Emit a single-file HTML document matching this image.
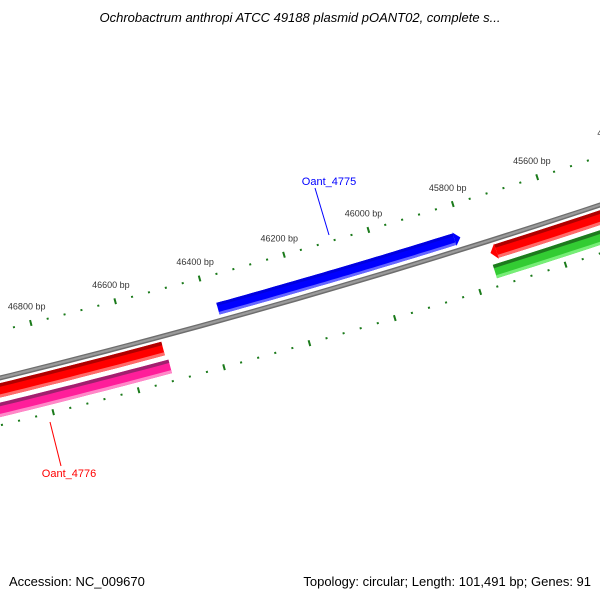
<!DOCTYPE html>
<html><head><meta charset="utf-8"><style>
html,body{margin:0;padding:0;background:#fff;}
svg{display:block;font-family:"Liberation Sans",sans-serif;}
</style></head><body>
<svg id="map" width="600" height="600" viewBox="0 0 600 600">
<text x="300" y="22" text-anchor="middle" font-size="13" font-style="italic" fill="#000">Ochrobactrum anthropi ATCC 49188 plasmid pOANT02, complete s...</text>
<g id="ticks"></g>
<g id="feats"></g>
<g id="labels"></g>
<text x="9" y="586" font-size="13" fill="#000">Accession: NC_009670</text>
<text x="591" y="586" font-size="13" fill="#000" text-anchor="end">Topology: circular; Length: 101,491 bp; Genes: 91</text>
</svg>
<script>
const majorTicks = [47000, 46800, 46600, 46400, 46200, 46000, 45800, 45600, 45400, 45200];
const tickLabels = ["47000 bp","46800 bp","46600 bp","46400 bp","46200 bp","46000 bp","45800 bp","45600 bp","45400 bp","45200 bp"];
const minorStep = 40;
const featNames = ["Oant_4775","Oant_4776","red-right","pink-left","green-right"];
const featStart = [46378, 47400, 45752, 47400, 45755];
const featEnd = [45806, 46522, 44000, 46517, 44000];
const featStrand = [1, -1, -1, -1, -1];
const featLane = [0, 1, 1, 2, 2];
const featColor = [["#0000e0","#0000ff","#6666ff"],["#b00000","#ff0000","#ff6a6a"],["#b00000","#ff0000","#ff6a6a"],["#a0206e","#ff1e9a","#ff88c8"],["#1e7a1e","#33cc33","#77ee77"]];
const featArrow = [true, false, true, false, false];

const NS = "http://www.w3.org/2000/svg";
function P(bp, d){
  const xb = 42 + (46800 - bp) * 0.4245;
  const y0 = 378 - 0.245 * xb - 7.22e-5 * xb * xb;
  const m = -0.245 - 1.444e-4 * xb;
  const n = Math.sqrt(1 + m * m);
  return [xb + (-m / n) * d, y0 + d / n];
}
function mk(tag, attrs, parent){
  const e = document.createElementNS(NS, tag);
  for (const k in attrs) e.setAttribute(k, attrs[k]);
  parent.appendChild(e);
  return e;
}
function bandPath(b0, b1, d0, d1){
  const pts = [];
  const N = 40;
  for (let i = 0; i <= N; i++){ const b = b0 + (b1 - b0) * i / N; pts.push(P(b, d0)); }
  for (let i = N; i >= 0; i--){ const b = b0 + (b1 - b0) * i / N; pts.push(P(b, d1)); }
  return "M" + pts.map(p => p[0].toFixed(1) + "," + p[1].toFixed(1)).join("L") + "Z";
}
const tg = document.getElementById("ticks");
const fg = document.getElementById("feats");
const lg = document.getElementById("labels");

// backbone
const bb1 = mk("path", {d: bandPath(48000, 43500, -2.5, 2.5), fill: "#6e6e6e"}, fg);


const bb2 = mk("path", {d: bandPath(48000, 43500, -1.2, 1), fill: "#9a9a9a"}, fg);



// ticks
const rings = [-46, 46];
for (const r of rings){
  for (let b = 47400; b >= 44400; b -= minorStep){
    const isMajor = majorTicks.indexOf(b) >= 0;
    if (isMajor){
      const a = P(b, r - 3), c = P(b, r + 3);
      const t = mk("line", {x1: a[0], y1: a[1], x2: c[0], y2: c[1], stroke: "#1a7a1a", "stroke-width": 2}, tg);
      
      
    } else {
      const a = P(b, r - 1), c = P(b, r + 1);
      const t = mk("line", {x1: a[0], y1: a[1], x2: c[0], y2: c[1], stroke: "#1a7a1a", "stroke-width": 2}, tg);
      
      
    }
  }
}
majorTicks.forEach((b, i) => {
  const p = P(b, -63);
  const t = mk("text", {x: p[0].toFixed(1), y: (p[1] + 3).toFixed(1), "text-anchor": "middle", "font-size": "9", fill: "#333"}, tg);
  t.textContent = tickLabels[i];
  
  
});

// features
const laneD = {0: [-18, -6], 1: [5, 19], 2: [24, 38]};
featNames.forEach((nm, i) => {
  let [d0, d1] = laneD[featLane[i]];
  const h = d1 - d0;
  const g = mk("g", {}, fg);
  
  
  let b0 = featStart[i], b1 = featEnd[i];
  // arrow head length in bp (~6px)
  const ah = 14;
  let bodyEnd = b1, tip = null;
  if (featArrow[i]){
    if (featStrand[i] === 1){ bodyEnd = b1 + ah; tip = b1; }
    else { tip = b0; b0 = b0 - ah; }
  }
  const s0 = b0, s1 = (featArrow[i] && featStrand[i] === 1) ? bodyEnd : b1;
  const cols = featColor[i];
  mk("path", {d: bandPath(s0, s1, d0, d1), fill: cols[1]}, g);
  mk("path", {d: bandPath(s0, s1, d0, d0 + h * 0.25), fill: cols[0]}, g);
  mk("path", {d: bandPath(s0, s1, d1 - h * 0.22, d1), fill: cols[2]}, g);
  if (tip !== null){
    const base = featStrand[i] === 1 ? bodyEnd : b0;
    const a = P(base, d0 - 1), c = P(base, d1 + 1), t = P(tip, (d0 + d1) / 2);
    mk("polygon", {points: `${a[0]},${a[1]} ${t[0]},${t[1]} ${c[0]},${c[1]}`, fill: cols[1]}, g);
  }
});

// labels
const l1 = mk("line", {x1: 315, y1: 188, x2: 329, y2: 235, stroke: "#0000ff", "stroke-width": 1}, lg);


const t1 = mk("text", {x: 329, y: 185, "text-anchor": "middle", "font-size": "11", fill: "#0000ff"}, lg);
t1.textContent = "Oant_4775";


const l2 = mk("line", {x1: 50, y1: 422, x2: 61, y2: 466, stroke: "#ff0000", "stroke-width": 1}, lg);


const t2 = mk("text", {x: 69, y: 477, "text-anchor": "middle", "font-size": "11", fill: "#ff0000"}, lg);
t2.textContent = "Oant_4776";


</script>
</body></html>
